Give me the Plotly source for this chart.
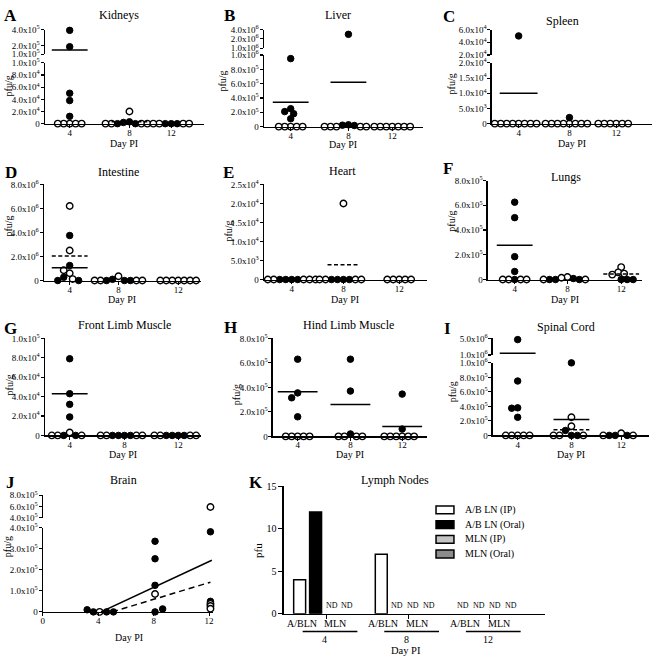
import math
import plotly.graph_objects as go

W, H = 664, 662
FONT = "Liberation Serif, Times New Roman, DejaVu Serif, serif"

# ---------------- data ----------------
DAY_LABELS = ["4", "8", "12"]

kidneys_oral = [[3.9e5, 1.9e5, 5.0e4, 3.8e4, 1.2e4], [3e3, 2e3, 0, 0], [0, 0, 0]]
kidneys_ip = [[0, 0, 0, 0, 0], [2.0e4, 0, 0, 0, 0], [0, 0, 0, 0]]
kidneys_mean_oral = [1.5e5, None, None]
kidneys_mean_ip = [None, 3e3, None]

liver_oral = [[9.5e5, 2.5e5, 2.1e5, 1.8e5, 1.1e5], [2.8e6, 2.5e4, 2.0e4, 1.5e4], []]
liver_ip = [[0, 0, 0, 0, 0], [0, 0, 0, 0, 0], [0, 0, 0, 0, 0, 0, 0]]
liver_mean_oral = [3.4e5, 6.2e5, None]
liver_mean_ip = [None, None, None]

spleen_oral = [[5.0e4], [2.0e3], []]
spleen_ip = [[0] * 8, [0] * 8, [0] * 6]
spleen_mean_oral = [1.0e4, None, None]
spleen_mean_ip = [None, None, None]

intestine_oral = [[3.75e6, 1.25e6, 2.7e5, 0, 0], [1.0e5, 0, 0, 0], []]
intestine_ip = [[6.2e6, 2.5e6, 8.5e5, 6.0e5, 1.2e5], [3.5e5, 0, 0, 0, 0], [0] * 7]
intestine_mean_oral = [1.07e6, None, None]
intestine_mean_ip = [2.05e6, None, None]

heart_oral = [[0] * 4, [0] * 4, []]
heart_ip = [[0] * 5, [2.0e4, 0, 0, 0, 0], [0] * 5]
heart_mean_oral = [None, None, None]
heart_mean_ip = [None, 3.9e3, None]

lungs_oral = [[6.25e5, 5.0e5, 1.85e5, 6.5e4, 0], [8e3, 0, 0, 0], [0, 0, 0]]
lungs_ip = [[0] * 4, [2.0e4, 1.5e4, 0, 0], [1.0e5, 5.8e4, 4.8e4, 4.0e4]]
lungs_mean_oral = [2.77e5, None, None]
lungs_mean_ip = [None, None, 4.5e4]

front_oral = [[7.9e4, 4.3e4, 3.2e4, 1.9e4, 0, 0], [0] * 4, [0] * 4]
front_ip = [[3e3, 0, 0, 0], [0] * 4, [0] * 4]
front_mean_oral = [4.3e4, None, None]
front_mean_ip = [None, None, None]

hind_oral = [[6.3e5, 3.55e5, 3.15e5, 1.6e5], [6.3e5, 3.7e5, 2.0e4], [3.45e5, 6.0e4]]
hind_ip = [[0] * 5, [0] * 4, [0] * 6]
hind_mean_oral = [3.65e5, 2.6e5, 8.0e4]
hind_mean_ip = [None, None, None]

spinal_oral = [[4.7e6, 7.5e5, 3.8e5, 3.75e5, 2.5e5], [1.0e6, 6.8e4, 0, 0], [0, 0, 0]]
spinal_ip = [[0] * 5, [2.5e5, 1.27e5, 0, 0, 0], [3e4, 0, 0]]
spinal_mean_oral = [1.4e6, 2.18e5, None]
spinal_mean_ip = [None, 7.7e4, None]

brain_oral_day = [3.2, 3.65, 4.6, 5.1, 8.1, 8.1, 8.1, 8.1, 8.65, 12.1, 12.1]
brain_oral_val = [1.0e4, 0, 0, 0, 3.35e5, 2.52e5, 1.26e5, 0, 1.4e4, 3.8e5, 5.0e4]
brain_ip_day = [4.1, 8.1, 12.1, 12.1, 12.1, 12.1]
brain_ip_val = [0, 8.5e4, 5.9e5, 3.8e4, 2.8e4, 1.5e4]
brain_fit_oral_day = [4.2, 12.2]
brain_fit_oral_val = [0, 2.45e5]
brain_fit_ip_day = [5.0, 12.1]
brain_fit_ip_val = [0, 1.41e5]

LN_DAYS = ["4", "8", "12"]
LN_SERIES = ["A/B LN (IP)", "A/B LN (Oral)", "MLN (IP)", "MLN (Oral)"]
ln_ab_ip = [4, 7, None]
ln_ab_oral = [12, None, None]
ln_mln_ip = [None, None, None]
ln_mln_oral = [None, None, None]

# ---------------- helpers ----------------
fig = go.Figure()
L = dict(width=W, height=H, margin=dict(l=0, r=0, t=0, b=0, pad=0), autosize=False,
         paper_bgcolor="white", plot_bgcolor="white", showlegend=False,
         font=dict(family=FONT, size=10, color="black"))
ANN = []
SHAPES = []
cnt = {"x": 0, "y": 0}


def nid(p):
    cnt[p] += 1
    return cnt[p]


def ref(p, n):
    return p if n == 1 else f"{p}{n}"


def key(p, n):
    return p + "axis" + ("" if n == 1 else str(n))


def fmt(v):
    if v == 0:
        return "0"
    e = int(math.floor(math.log10(v) + 1e-9))
    m = v / 10 ** e
    return f"{m:.1f}x10<sup>{e}</sup>"


def base_axis():
    return dict(showline=True, linecolor="black", linewidth=1.3, ticks="outside", ticklen=3,
                tickwidth=1.1, tickcolor="black", showgrid=False, zeroline=False, fixedrange=True,
                tickfont=dict(family=FONT, size=9, color="black"))


def txt(x, y, s, size, bold=False, angle=0, xanchor="center", yanchor="middle"):
    if bold:
        s = f"<b>{s}</b>"
    ANN.append(dict(x=x / W, y=1 - y / H, xref="paper", yref="paper", text=s, showarrow=False,
                    font=dict(family=FONT, size=size, color="black"), textangle=angle,
                    xanchor=xanchor, yanchor=yanchor))


def yaxis_seg(seg, xn):
    d = base_axis()
    d.update(domain=[1 - seg["bottom"] / H, 1 - seg["top"] / H], anchor=ref("x", xn),
             tickvals=seg["ticks"], ticktext=[fmt(t) for t in seg["ticks"]], ticklabelstandoff=-1)
    r = seg["range"]
    if seg.get("log"):
        d.update(type="log", range=[math.log10(r[0]), math.log10(r[1])])
    else:
        d.update(range=r)
    return d


def seg_px(seg, v):
    r0, r1 = seg["range"]
    if seg.get("log"):
        v, r0, r1 = math.log10(v), math.log10(r0), math.log10(r1)
    return seg["bottom"] - (v - r0) / (r1 - r0) * (seg["bottom"] - seg["top"])


MK_ORAL = dict(symbol="circle", size=6.5, color="black", line=dict(color="black", width=1))
MK_IP = dict(symbol="circle", size=6.5, color="white", line=dict(color="black", width=1.4))


def header(p):
    txt(p["letter"][0], p["letter"][1], p["key"], 17, bold=True)
    txt(p["title_xy"][0], p["title_xy"][1], p["title"], 12)
    txt(p["ylab"][0], p["ylab"][1], p.get("ylabel", "pfu/g"), 10, angle=-90)
    txt(p.get("daypi_x", (p["x0"] + p["x1"]) / 2), p["daypi_y"], "Day PI", 10)


def xaxis_style(d):
    d.update(ticklabelstandoff=-3)
    return d


def scatter_panel(p):
    xn = nid("x")
    yl = nid("y")
    segs = {"low": (yl, p["lower"])}
    if p.get("upper"):
        yu = nid("y")
        segs["up"] = (yu, p["upper"])
    xa = xaxis_style(base_axis())
    xa.update(domain=[p["x0"] / W, p["x1"] / W], range=[p["x0"], p["x1"]], anchor=ref("y", yl),
              tickvals=p["cols"], ticktext=DAY_LABELS)
    L[key("x", xn)] = xa
    for sname, (yn, seg) in segs.items():
        L[key("y", yn)] = yaxis_seg(seg, xn)

    def which(v):
        if "up" in segs and v > p["lower"]["range"][1]:
            return "up"
        return "low"

    buckets = {}
    d = 6.0
    for i, c in enumerate(p["cols"]):
        pts = [(v, "oral") for v in p["oral"][i]] + [(v, "ip") for v in p["ip"][i]]
        order = sorted(range(len(pts)), key=lambda j: -pts[j][0])
        placed = []
        for j in order:
            v, kind = pts[j]
            s = which(v)
            py = seg_px(segs[s][1], v)
            k = 0
            while True:
                off = 0 if k == 0 else ((k + 1) // 2) * (d / 2) * (-1 if k % 2 else 1)
                if all((off - ox) ** 2 + (py - oy) ** 2 >= (d * 0.98) ** 2 for ox, oy in placed):
                    break
                k += 1
            placed.append((off, py))
            b = buckets.setdefault((kind, s), ([], []))
            b[0].append(c + off)
            b[1].append(v)
    for (kind, s), (xs, ys) in buckets.items():
        fig.add_trace(go.Scatter(x=xs, y=ys, mode="markers", cliponaxis=False,
                                 marker=MK_ORAL if kind == "oral" else MK_IP,
                                 xaxis=ref("x", xn), yaxis=ref("y", segs[s][0]), hoverinfo="skip"))
    hw = p.get("hw", 18)
    for means, dash in ((p["m_oral"], "solid"), (p["m_ip"], "4px,2.5px")):
        for i, m in enumerate(means):
            if m is None:
                continue
            s = which(m)
            c = p["cols"][i]
            fig.add_trace(go.Scatter(x=[c - hw, c + hw], y=[m, m], mode="lines", cliponaxis=False,
                                     line=dict(color="black", width=1.5, dash=dash),
                                     xaxis=ref("x", xn), yaxis=ref("y", segs[s][0]), hoverinfo="skip"))
    header(p)


def seg(top, bottom, rng, ticks, log=False):
    return dict(top=top, bottom=bottom, range=rng, ticks=ticks, log=log)


def steps(top, step):
    n = int(round(top / step))
    return [step * i for i in range(n + 1)]


PANELS = [
    dict(key="A", title="Kidneys", oral=kidneys_oral, ip=kidneys_ip, m_oral=kidneys_mean_oral, m_ip=kidneys_mean_ip,
         x0=43, x1=203, cols=[68, 128, 170],
         lower=seg(57, 119, [0, 1e5], steps(1e5, 2e4)), upper=seg(23, 48, [1e5, 4e5], [1e5, 2e5, 4e5]),
         letter=(9, 9), title_xy=(118, 8), ylab=(6, 80), daypi_y=139),
    dict(key="B", title="Liver", oral=liver_oral, ip=liver_ip, m_oral=liver_mean_oral, m_ip=liver_mean_ip,
         x0=263, x1=423, cols=[290, 348, 392],
         lower=seg(49, 122, [0, 1e6], steps(1e6, 2e5)), upper=seg(23, 42, [1e6, 4e6], [1e6, 2e6, 4e6], log=True),
         letter=(229, 9), title_xy=(338, 8), ylab=(222, 75), daypi_y=140),
    dict(key="C", title="Spleen", oral=spleen_oral, ip=spleen_ip, m_oral=spleen_mean_oral, m_ip=spleen_mean_ip,
         x0=492, x1=653, cols=[519, 570, 617], hw=19,
         lower=seg(57, 119, [0, 2e4], steps(2e4, 5e3)), upper=seg(23, 49, [2e4, 6e4], [2e4, 4e4, 6e4]),
         letter=(449, 10), title_xy=(563, 14), ylab=(452, 78), daypi_y=139),
    dict(key="D", title="Intestine", oral=intestine_oral, ip=intestine_ip, m_oral=intestine_mean_oral,
         m_ip=intestine_mean_ip, x0=42, x1=200, cols=[68, 117, 177],
         lower=seg(181, 279, [0, 8e6], steps(8e6, 2e6)),
         letter=(9, 169), title_xy=(117, 168), ylab=(7, 223), daypi_y=298),
    dict(key="E", title="Heart", oral=heart_oral, ip=heart_ip, m_oral=heart_mean_oral, m_ip=heart_mean_ip,
         x0=263, x1=427, cols=[291, 343, 399], hw=16,
         lower=seg(181, 278, [0, 2.5e4], steps(2.5e4, 5e3)),
         letter=(228, 169), title_xy=(342, 167), ylab=(228, 228), daypi_y=298),
    dict(key="F", title="Lungs", oral=lungs_oral, ip=lungs_ip, m_oral=lungs_mean_oral, m_ip=lungs_mean_ip,
         x0=488, x1=643, cols=[515, 568, 622],
         lower=seg(177, 278, [0, 8e5], steps(8e5, 2e5)),
         letter=(448, 165), title_xy=(567, 173), ylab=(452, 218), daypi_y=298),
    dict(key="G", title="Front Limb Muscle", oral=front_oral, ip=front_ip, m_oral=front_mean_oral,
         m_ip=front_mean_ip, x0=43, x1=200, cols=[68, 123, 177],
         lower=seg(338, 437, [0, 1e5], steps(1e5, 2e4)),
         letter=(9, 328), title_xy=(123, 324), ylab=(7, 385), daypi_y=456),
    dict(key="H", title="Hind Limb Muscle", oral=hind_oral, ip=hind_ip, m_oral=hind_mean_oral, m_ip=hind_mean_ip,
         x0=272, x1=427, cols=[297, 350, 402], hw=20,
         lower=seg(338, 438, [0, 8e5], steps(8e5, 2e5)),
         letter=(230, 327), title_xy=(348, 324), ylab=(235, 395), daypi_y=456),
    dict(key="I", title="Spinal Cord", oral=spinal_oral, ip=spinal_ip, m_oral=spinal_mean_oral,
         m_ip=spinal_mean_ip, x0=493, x1=650, cols=[518, 572, 622],
         lower=seg(363, 437, [0, 1e6], steps(1e6, 2e5)), upper=seg(338, 355, [1e6, 5e6], [1e6, 5e6]),
         letter=(448, 328), title_xy=(567, 326), ylab=(452, 392), daypi_y=456),
]

for p in PANELS:
    scatter_panel(p)

# ---------------- J: Brain ----------------
J = dict(key="J", title="Brain", x0=41, x1=212, letter=(9, 485), title_xy=(122, 482), ylab=(5, 550),
         daypi_y=643, daypi_x=128,
         lower=seg(531, 617, [0, 4e5], steps(4e5, 1e5)), upper=seg(498, 521, [4e5, 8e5], [4e5, 6e5, 8e5]))
xn = nid("x")
yl = nid("y")
yu = nid("y")
xa = xaxis_style(base_axis())
xa.update(domain=[J["x0"] / W, J["x1"] / W], range=[0, 12 * (J["x1"] - J["x0"]) / (208 - J["x0"])],
          anchor=ref("y", yl), tickvals=[0, 4, 8, 12], ticktext=["0", "4", "8", "12"])
L[key("x", xn)] = xa
L[key("y", yl)] = yaxis_seg(J["lower"], xn)
L[key("y", yu)] = yaxis_seg(J["upper"], xn)
top_low = J["lower"]["range"][1]


def split(days, vals):
    lo = [(d_, v) for d_, v in zip(days, vals) if v <= top_low]
    hi = [(d_, v) for d_, v in zip(days, vals) if v > top_low]
    return lo, hi


for days, vals, mk in ((brain_oral_day, brain_oral_val, MK_ORAL), (brain_ip_day, brain_ip_val, MK_IP)):
    lo, hi = split(days, vals)
    for pts, yn in ((lo, yl), (hi, yu)):
        if pts:
            fig.add_trace(go.Scatter(x=[a for a, b in pts], y=[b for a, b in pts], mode="markers",
                                     cliponaxis=False, marker=mk, xaxis=ref("x", xn), yaxis=ref("y", yn),
                                     hoverinfo="skip"))
for days, vals, dash in ((brain_fit_oral_day, brain_fit_oral_val, "solid"),
                         (brain_fit_ip_day, brain_fit_ip_val, "6px,4px")):
    fig.add_trace(go.Scatter(x=days, y=vals, mode="lines", cliponaxis=False,
                             line=dict(color="black", width=1.5, dash=dash),
                             xaxis=ref("x", xn), yaxis=ref("y", yl), hoverinfo="skip"))
header(J)

# ---------------- K: Lymph nodes ----------------
K = dict(x0=283, x1=545, top=489, bottom=619)
GROUP_CENTERS = [323, 405, 487]
SERIES_OFFSETS = [-24, -8, 8, 24]
BAR_W = 12
xn = nid("x")
yn = nid("y")
xa = base_axis()
xa.update(domain=[K["x0"] / W, K["x1"] / W], range=[K["x0"], K["x1"]], anchor=ref("y", yn),
          tickvals=[c + 3 for c in GROUP_CENTERS], ticktext=["", "", ""], ticklen=4)
ya = base_axis()
ya.update(domain=[1 - K["bottom"] / H, 1 - K["top"] / H], range=[0, 15], anchor=ref("x", xn),
          tickvals=[0, 5, 10, 15], ticktext=["0", "5", "10", "15"], ticklen=4,
          tickfont=dict(family=FONT, size=10, color="black"))
L[key("x", xn)] = xa
L[key("y", yn)] = ya
series_vals = [ln_ab_ip, ln_ab_oral, ln_mln_ip, ln_mln_oral]
series_fill = ["white", "black", "#c4c4c4", "#8c8c8c"]
for si, vals in enumerate(series_vals):
    xs = [GROUP_CENTERS[g] + SERIES_OFFSETS[si] for g in range(3)]
    fig.add_trace(go.Bar(x=xs, y=[v if v is not None else None for v in vals], width=BAR_W,
                         marker=dict(color=series_fill[si], line=dict(color="black", width=1.5)),
                         xaxis=ref("x", xn), yaxis=ref("y", yn), hoverinfo="skip"))
    for g, v in enumerate(vals):
        if v is None:
            ANN.append(dict(x=xs[g], y=0, xref=ref("x", xn), yref=ref("y", yn), text="ND", showarrow=False,
                            yshift=8, font=dict(family=FONT, size=8, color="black")))
for g, c in enumerate(GROUP_CENTERS):
    txt(c - 22, 629, "A/BLN", 10)
    txt(c + 12, 629, "MLN", 10)
    SHAPES.append(dict(type="line", xref="paper", yref="paper", x0=(c - 21) / W, x1=(c + 34) / W,
                       y0=1 - 637 / H, y1=1 - 637 / H, line=dict(color="black", width=1.5)))
    txt(c + 1, 645, LN_DAYS[g], 10)
txt(406, 656, "Day PI", 10.5)
txt(255, 485, "K", 17, bold=True)
txt(395, 482, "Lymph Nodes", 12)
txt(257, 554, "pfu", 11, angle=-90)
for i, name in enumerate(LN_SERIES):
    yc = 513 + 15 * i
    SHAPES.append(dict(type="rect", xref="paper", yref="paper", x0=436 / W, x1=454 / W,
                       y0=1 - (yc + 4) / H, y1=1 - (yc - 4) / H, fillcolor=series_fill[i],
                       line=dict(color="black", width=1.5)))
    txt(463, yc, name, 10, xanchor="left")

L["annotations"] = ANN
L["shapes"] = SHAPES
L["barmode"] = "overlay"
fig.update_layout(**L)
fig.write_html("out.html", config={"displayModeBar": False, "staticPlot": True},
               post_script="document.body.style.margin='0px';")
